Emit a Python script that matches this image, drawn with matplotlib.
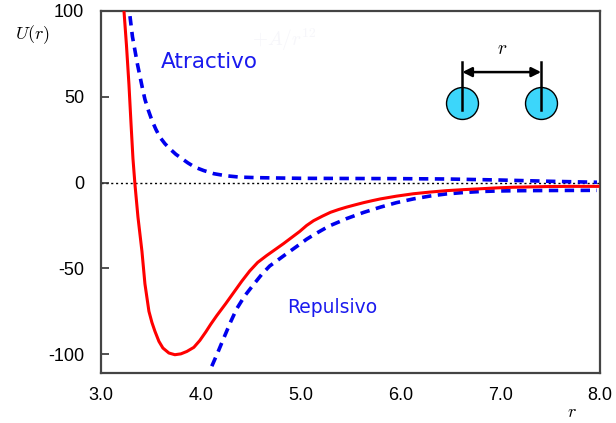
import matplotlib
matplotlib.use("Agg")
import matplotlib.pyplot as plt

plt.rcParams['mathtext.fontset'] = 'cm'

# Lennard-Jones total potential (red)
r_total = [3.23, 3.255, 3.28, 3.30, 3.32, 3.34, 3.37, 3.41, 3.44, 3.48, 3.51, 3.54,
           3.58, 3.62, 3.68, 3.74, 3.80, 3.86, 3.93, 3.99, 4.05, 4.10, 4.16, 4.25,
           4.33, 4.41, 4.49, 4.57, 4.66, 4.75, 4.83, 4.91, 4.99, 5.06, 5.13, 5.22,
           5.30, 5.38, 5.46, 5.55, 5.63, 5.72, 5.80, 5.96, 6.13, 6.30, 6.46, 6.63,
           6.80, 6.96, 7.13, 7.30, 7.47, 7.70, 7.98]
u_total = [100, 80, 57, 35, 14, -1, -20, -40, -59, -75, -81.5, -86.6,
           -92.5, -96.4, -99.3, -100.3, -99.8, -98.4, -96, -92, -87, -82.5, -77.5, -70.5,
           -64, -57.5, -51.5, -46.5, -42.5, -38.8, -35.5, -32, -28.5, -25, -22.2, -19.5,
           -17.3, -15.7, -14.3, -12.9, -11.7, -10.5, -9.5, -7.9, -6.5, -5.5, -4.7, -4.1,
           -3.6, -3.1, -2.7, -2.5, -2.3, -2.2, -2.2]

# upper dashed curve
r_upper = [3.29, 3.315, 3.34, 3.365, 3.39, 3.415, 3.44, 3.475, 3.51, 3.55, 3.59, 3.64,
           3.69, 3.75, 3.81, 3.87, 3.94, 4.03, 4.13, 4.25, 4.39, 4.55, 4.75, 5.0,
           5.5, 6.0, 6.47, 7.0, 7.47, 7.97]
u_upper = [97, 85, 77, 69, 62, 55, 48.5, 42, 36.3, 31, 26.5, 22.7,
           19.7, 16.5, 14, 11.5, 9, 7, 5.2, 4, 3.2, 2.9, 2.7, 2.5,
           2.4, 2.3, 2.1, 1.5, 0.8, 0.2]

# lower dashed curve
r_lower = [4.11, 4.17, 4.23, 4.30, 4.36, 4.44, 4.53, 4.61, 4.69, 4.78, 4.86, 4.93,
           4.99, 5.06, 5.13, 5.21, 5.29, 5.38, 5.46, 5.55, 5.63, 5.80, 5.96, 6.13,
           6.30, 6.46, 6.63, 6.80, 6.96, 7.2, 7.5, 7.97]
u_lower = [-107, -99, -90.6, -81, -73.5, -66, -59.3, -53.5, -48.6, -44.8, -41.4, -38.5,
           -36, -33, -30.5, -27.8, -25.2, -23, -21, -19.1, -17.4, -14.3, -11.7, -9.5,
           -7.8, -6.6, -5.8, -5.2, -4.9, -4.7, -4.6, -4.5]

x_ticks = [3.0, 4.0, 5.0, 6.0, 7.0, 8.0]
x_ticklabels = ["3.0", "4.0", "5.0", "6.0", "7.0", "8.0"]
y_ticks = [100, 50, 0, -50, -100]
y_ticklabels = ["100", "50", "0", "-50", "-100"]

fig = plt.figure(figsize=(6.16, 4.23), dpi=100)
ax = fig.add_axes([0.164, 0.118, 0.810, 0.856])
ax.set_xlim(3.0, 8.0)
ax.set_ylim(-111, 100)

ax.axhline(0, color='black', linestyle=(0, (1.5, 2.0)), linewidth=1.0, zorder=1)
ax.plot(r_total, u_total, color='#ff0000', linewidth=2.2, zorder=3,
        solid_joinstyle='round')
ax.plot(r_upper, u_upper, color='#0000ee', linewidth=2.6, linestyle=(0, (2.6, 1.8)),
        zorder=2)
ax.plot(r_lower, u_lower, color='#0000ee', linewidth=2.6, linestyle=(0, (2.6, 1.8)),
        zorder=2)

ax.set_xticks(x_ticks)
ax.set_xticklabels(x_ticklabels)
ax.set_yticks(y_ticks)
ax.set_yticklabels(y_ticklabels)
ax.tick_params(axis='x', length=0, pad=10, labelsize=13)
ax.tick_params(axis='y', direction='in', length=6, width=1.2, pad=12, labelsize=13,
               color='#333333')
for lab in ax.get_xticklabels() + ax.get_yticklabels():
    lab.set_fontfamily('Liberation Sans')
for s in ax.spines.values():
    s.set_color('#444444')
    s.set_linewidth(1.6)

ax.text(4.09, 70, "Atractivo", color='#1a1aee', fontsize=15.5, ha='center', va='center',
        family='DejaVu Sans')
ax.text(5.32, -73, "Repulsivo", color='#1a1aee', fontsize=13.5, ha='center', va='center',
        family='DejaVu Sans')
ax.text(4.84, 83, r"$+A/r^{12}$", color='#f6f6fa', fontsize=14, ha='center', va='center')

fig.text(15 / 616, 1 - 35 / 423, r"$U(r)$", fontsize=13, ha='left', va='center')
fig.text(572 / 616, 1 - 412 / 423, r"$r$", fontsize=13, ha='center', va='center')

# inset diagram: two particles separated by r
px = [6.62, 7.41]
ax.scatter(px, [46.3, 46.3], s=23 ** 2, color='#3cd6fa', edgecolor='black',
           linewidth=1.0, zorder=4)
for xv in px:
    ax.plot([xv, xv], [42.2, 70.3], color='black', linewidth=1.8, zorder=5)
ax.annotate("", xy=(px[0], 64.4), xytext=(px[1], 64.4),
            arrowprops=dict(arrowstyle='<|-|>', color='black', lw=1.8,
                            shrinkA=0, shrinkB=0, mutation_scale=14), zorder=5)
ax.text(7.02, 72.5, r"$r$", fontsize=14, ha='center', va='bottom')

fig.savefig("out.png", dpi=100, facecolor='white')
